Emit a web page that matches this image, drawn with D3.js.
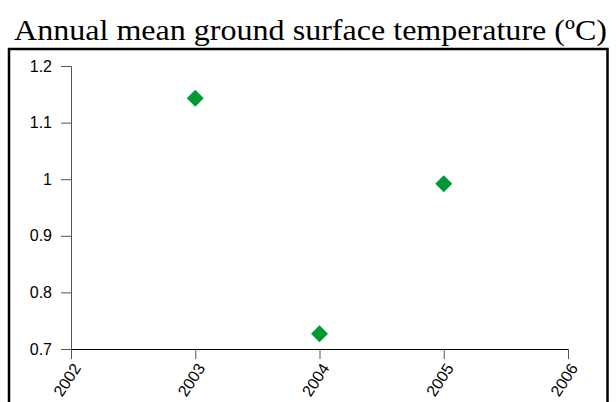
<!DOCTYPE html>
<html><head><meta charset="utf-8">
<script src="https://cdn.jsdelivr.net/npm/d3@7"></script>
<style>body{margin:0;background:#fff;}svg{display:block;}</style>
</head><body>
<script>
const years = [2003, 2004, 2005];
const temps = [1.143, 0.727, 0.992];
const xTicks = [2002, 2003, 2004, 2005, 2006];
const yTicks = [0.7, 0.8, 0.9, 1.0, 1.1, 1.2];
const title = "Annual mean ground surface temperature (ºC)";

const W = 616, H = 402;
const svg = d3.select("body").append("svg").attr("width", W).attr("height", H);

svg.append("text").attr("x", 14).attr("y", 40)
  .attr("font-family", "Liberation Serif, Times New Roman, serif").attr("font-size", 30)
  .attr("textLength", 593).attr("lengthAdjust", "spacingAndGlyphs")
  .attr("fill", "#000").text(title);

svg.append("rect").attr("x", 9).attr("y", 49).attr("width", 598.5).attr("height", 370)
  .attr("fill", "none").attr("stroke", "#000").attr("stroke-width", 2.5);

const x = d3.scaleLinear().domain([2002, 2006]).range([71, 568]);
const y = d3.scaleLinear().domain([0.7, 1.2]).range([349, 66]);

const yAxis = svg.append("g").attr("transform", "translate(71,0)")
  .call(d3.axisLeft(y).tickValues(yTicks).tickFormat(d3.format("")).tickSizeOuter(0).tickSize(10).tickPadding(9));
yAxis.attr("font-size", null);
yAxis.select(".domain").attr("stroke", "#555");
yAxis.selectAll(".tick line").attr("stroke", "#555");
yAxis.selectAll("text").attr("font-family", "Liberation Sans, Arial, sans-serif").attr("font-size", 16).attr("fill", "#000");

const xAxis = svg.append("g").attr("transform", "translate(0,349)")
  .call(d3.axisBottom(x).tickValues(xTicks).tickFormat(d3.format("d")).tickSizeOuter(0).tickSize(10));
xAxis.attr("font-size", null);
xAxis.select(".domain").attr("stroke", "#000");
xAxis.selectAll(".tick line").attr("stroke", "#555");
xAxis.selectAll("text").attr("font-family", "Liberation Sans, Arial, sans-serif").attr("font-size", 16).attr("fill", "#000")
  .attr("text-anchor", "end").attr("dy", null).attr("y", 0)
  .attr("transform", "translate(10,19) rotate(-57)");

const r = 8.5;
svg.append("g").selectAll("path").data(years.map((d, i) => [d, temps[i]])).join("path")
  .attr("transform", d => `translate(${x(d[0])},${y(d[1])})`)
  .attr("d", `M0,${-r}L${r},0L0,${r}L${-r},0Z`)
  .attr("fill", "#009933");
</script>
</body></html>
